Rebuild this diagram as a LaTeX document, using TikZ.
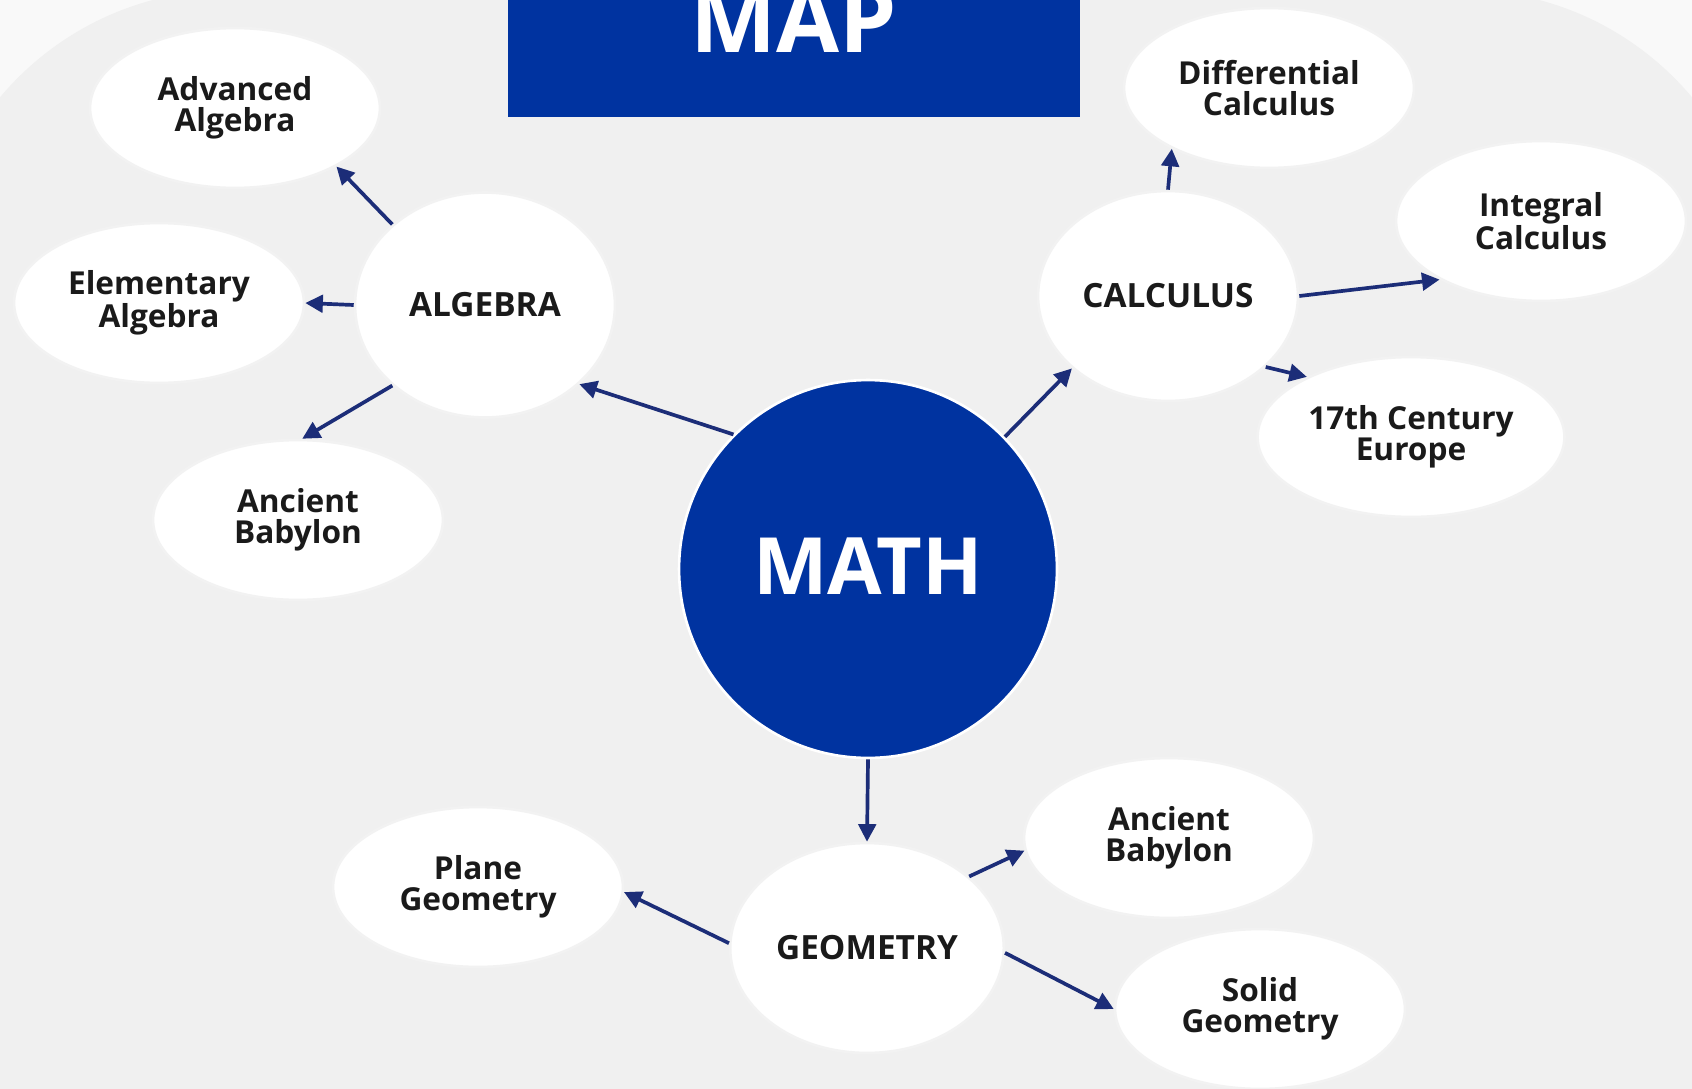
\documentclass[tikz,border=0pt]{standalone}
\usepackage{fontspec}
\setmainfont{Open Sans}
\usepackage{xcolor}
\definecolor{mapblue}{RGB}{0,51,160}
\definecolor{arrowblue}{RGB}{28,45,120}
\definecolor{backgray}{RGB}{240,240,240}
\definecolor{cornergray}{RGB}{249,249,249}
\definecolor{textblack}{RGB}{26,26,26}
\usepackage{tikz}
\usetikzlibrary{shapes.geometric, arrows.meta}
\tikzstyle{core} = [circle, fill=mapblue, draw=white, line width=1.5pt, minimum size=7.56cm, text=white, font=\fontsize{45}{45}\selectfont\bfseries]
\tikzstyle{topic} = [ellipse, fill=white, draw=black!5, line width=1.5pt, minimum width=5.2cm, minimum height=4.2cm, text=textblack, font=\fontsize{19}{19}\selectfont\bfseries]
\tikzstyle{subtopic} = [ellipse, fill=white, draw=black!5, line width=1.5pt, minimum width=5.8cm, minimum height=3.2cm, align=center, text=textblack, font=\fontsize{18}{17.6}\selectfont\bfseries]
\tikzstyle{titlebox} = [rectangle, fill=mapblue, minimum width=11.44cm, minimum height=2.54cm]
\tikzstyle{link} = [-{Triangle[length=10pt, width=10pt]}, draw=arrowblue, line width=2.1pt]

\begin{document}
\begin{tikzpicture}[x=0.02cm, y=-0.02cm]

    \useasboundingbox (0,0) rectangle (1692,1088);
    \clip (0,0) rectangle (1692,1088);
    \fill[cornergray] (0,0) rectangle (1692,1088);
    \fill[backgray, rounded corners=6cm] (-70,-10) rectangle (1762,1300);

    \node (mapBox) [titlebox] at (794,54) {};
    \node (mapTitle) [anchor=base, text=white, font=\fontsize{52}{52}\selectfont\bfseries] at (794,53) {MAP};

    \node (math) [core, text depth=0.12cm] at (868,569) {MATH};

    \node (algebra) [topic, minimum height=4.5cm] at (485,305) {ALGEBRA};
    \node (calculus) [topic] at (1168,296) {CALCULUS};
    \node (geometry) [topic] at (867,948) {GEOMETRY};

    \node (advancedAlgebra) [subtopic] at (235,108) {Advanced\\Algebra};
    \node (elementaryAlgebra) [subtopic] at (159,303) {Elementary\\Algebra};
    \node (ancientBabylonAlg) [subtopic] at (298,520) {Ancient\\Babylon};

    \node (differentialCalculus) [subtopic] at (1269,88) {Differential\\Calculus};
    \node (integralCalculus) [subtopic] at (1541,221) {Integral\\Calculus};
    \node (centuryEurope) [subtopic] at (1411,437) {17th Century\\Europe};

    \node (ancientBabylonGeo) [subtopic] at (1169,838) {Ancient\\Babylon};
    \node (planeGeometry) [subtopic] at (478,887) {Plane\\Geometry};
    \node (solidGeometry) [subtopic] at (1260,1009) {Solid\\Geometry};

    \draw[link] (math.135) -- (algebra.-40);
    \draw[link] (math.44) -- (calculus.217);
    \draw[link] (math.south) -- (geometry.north);
    \draw[link] (algebra.139) -- (advancedAlgebra.-30);
    \draw[link] (algebra.west) -- (elementaryAlgebra.east);
    \draw[link] (algebra.221) -- (ancientBabylonAlg.87);
    \draw[link] (calculus.north) -- (differentialCalculus.212);
    \draw[link] (calculus.east) -- (integralCalculus.210);
    \draw[link] (calculus.-36) -- (centuryEurope.150);
    \draw[link] (geometry.35) -- (ancientBabylonGeo.185);
    \draw[link] (geometry.178) -- (planeGeometry.-2);
    \draw[link] (geometry.-2) -- (solidGeometry.west);

\end{tikzpicture}
\end{document}
